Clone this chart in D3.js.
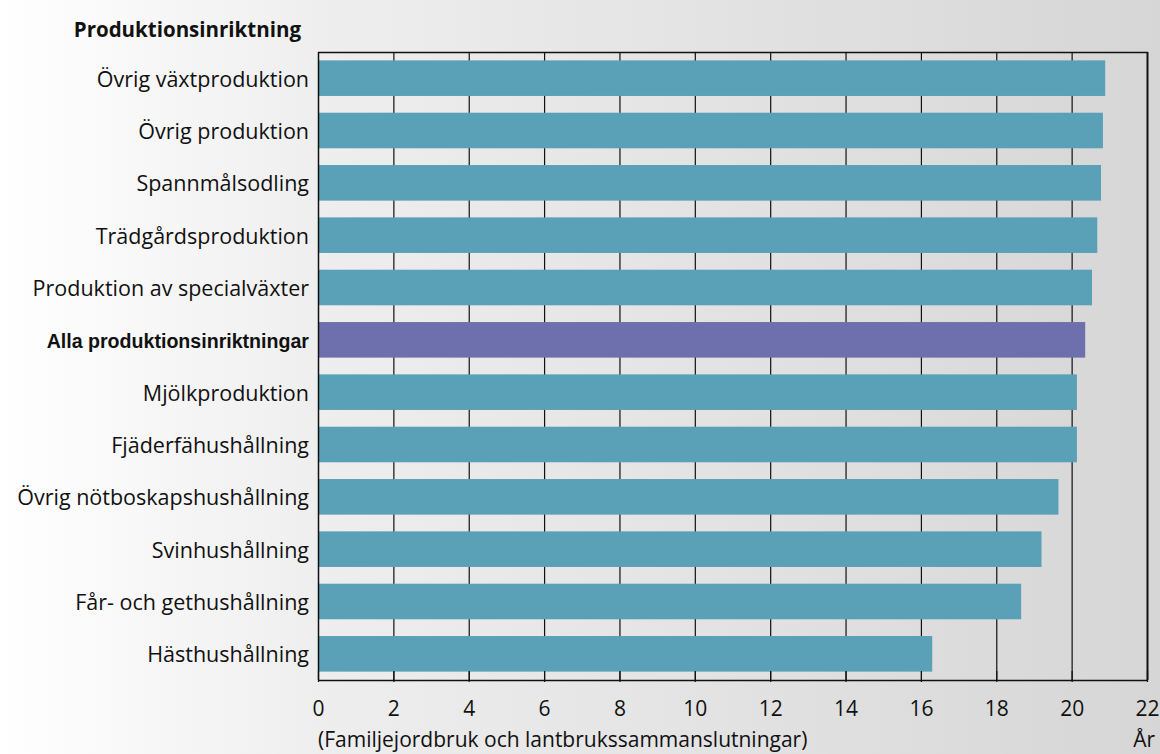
<!DOCTYPE html>
<html><head><meta charset="utf-8">
<script src="https://cdn.jsdelivr.net/npm/d3@7"></script>
<style>html,body{margin:0;padding:0;}svg{display:block;}</style>
</head><body>
<script>
const categories = ["Övrig växtproduktion","Övrig produktion","Spannmålsodling","Trädgårdsproduktion","Produktion av specialväxter","Alla produktionsinriktningar","Mjölkproduktion","Fjäderfähushållning","Övrig nötboskapshushållning","Svinhushållning","Får- och gethushållning","Hästhushållning"];
const values = [20.89, 20.83, 20.78, 20.68, 20.54, 20.36, 20.14, 20.14, 19.65, 19.2, 18.66, 16.3];
const highlight = "Alla produktionsinriktningar";
const xTicks = [0,2,4,6,8,10,12,14,16,18,20,22];
const title = "Produktionsinriktning";
const xTitle = "(Familjejordbruk och lantbrukssammanslutningar)";
const unit = "År";

const W = 1160, H = 754;
const m = {left: 318, right: 1147, top: 52, bottom: 680};
const svg = d3.select("body").append("svg").attr("width", W).attr("height", H);
const defs = svg.append("defs");
const g = defs.append("linearGradient").attr("id","bg").attr("x1","0").attr("x2","1").attr("y1","0").attr("y2","0");
g.append("stop").attr("offset","0").attr("stop-color","#ffffff");
g.append("stop").attr("offset","0.28").attr("stop-color","#eeeeee");
g.append("stop").attr("offset","1").attr("stop-color","#d6d6d6");
svg.append("rect").attr("width",W).attr("height",H).attr("fill","url(#bg)");

const font = "'Open Sans', 'Noto Sans', sans-serif";
const x = d3.scaleLinear().domain([0,22]).range([m.left, m.right]);
const y = d3.scaleBand().domain(categories).range([m.top, m.bottom]).paddingInner(0.32).paddingOuter(0.16);

// gridlines
svg.append("g").selectAll("line").data(xTicks.slice(1,-1)).join("line")
  .attr("x1", d=>x(d)+0.5).attr("x2", d=>x(d)+0.5).attr("y1", m.top).attr("y2", m.bottom+1)
  .attr("stroke","#111").attr("stroke-width",1.2);

// bars
svg.append("g").selectAll("rect").data(categories).join("rect")
  .attr("x", x(0)).attr("y", d=>y(d)).attr("height", y.bandwidth())
  .attr("width", (d,i)=>x(values[i])-x(0))
  .attr("fill", d=> d===highlight ? "#6e70ae" : "#5aa0b6");

// frame
svg.append("line").attr("x1",m.left).attr("x2",m.right+1).attr("y1",m.top+0.5).attr("y2",m.top+0.5).attr("stroke","#111").attr("stroke-width",1.5);
svg.append("line").attr("x1",m.left+0.5).attr("x2",m.left+0.5).attr("y1",m.top).attr("y2",m.bottom).attr("stroke","#111").attr("stroke-width",1.5);
svg.append("line").attr("x1",m.right+0.5).attr("x2",m.right+0.5).attr("y1",m.top).attr("y2",m.bottom).attr("stroke","#111").attr("stroke-width",2);

// x axis
const xa = svg.append("g").attr("transform",`translate(0,${m.bottom})`)
  .call(d3.axisBottom(x).tickValues(xTicks).tickSize(0).tickPadding(0).tickFormat(d3.format("d")));
xa.select(".domain").attr("stroke","#111").attr("stroke-width",1.5);
xa.selectAll(".tick line").attr("y1",-9).attr("y2",2).attr("stroke","#111").attr("stroke-width",1.2);
xa.selectAll(".tick text").attr("y",21).attr("dy","0.71em").attr("fill","#111")
  .style("font-family",font).style("font-size","21px");

// y labels
svg.append("g").selectAll("text").data(categories).join("text")
  .attr("x", 309).attr("y", d=>y(d)+y.bandwidth()/2+1).attr("dy","0.35em")
  .attr("text-anchor","end").attr("fill","#111")
  .style("font-family", d=> d===highlight ? "'Liberation Sans Narrow','Liberation Sans',Arial,sans-serif" : font)
  .style("font-weight", d=> d===highlight ? "bold" : "normal")
  .style("font-size", d=> d===highlight ? "19.6px" : "21.5px")
  .text(d=>d);

svg.append("text").attr("x",301).attr("y",37).attr("text-anchor","end").attr("fill","#111")
  .style("font-family",font).style("font-weight","bold").style("font-size","20.5px").text(title);
svg.append("text").attr("x",318).attr("y",747).attr("fill","#111")
  .style("font-family",font).style("font-size","21px").text(xTitle);
svg.append("text").attr("x",1155).attr("y",747).attr("text-anchor","end").attr("fill","#111")
  .style("font-family",font).style("font-size","21px").text(unit);
</script>
</body></html>
